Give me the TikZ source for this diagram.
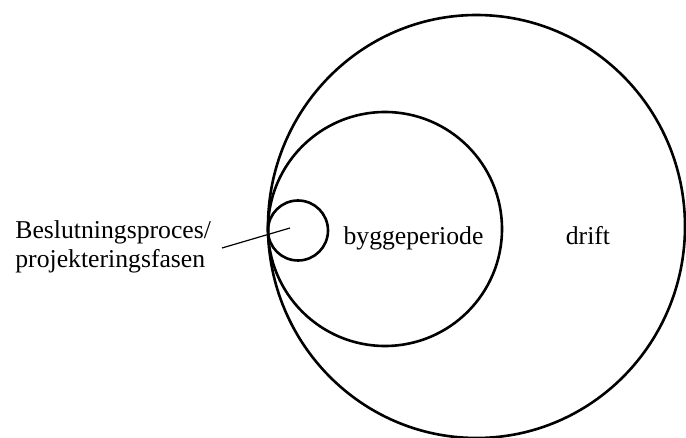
\documentclass[tikz,border=0pt]{standalone}
\usepackage{fontspec}
\setmainfont{Liberation Serif}
\usetikzlibrary{positioning, shapes.geometric}

\begin{document}
\begin{tikzpicture}[
    x=0.5pt, y=-0.5pt,
    ring/.style={draw, line width=1.3pt, inner sep=0pt},
    lbl/.style={inner sep=0pt, font=\fontsize{12.85}{14.5}\selectfont, align=left},
    lead/.style={line width=0.6pt}]
    \useasboundingbox (0,0) rectangle (686,438);
    \node[ring, ellipse, minimum width=417pt*0.5, minimum height=423pt*0.5] (drift) at (476.5,226.5) {};
    \node[ring, circle, minimum size=234pt*0.5] (bygge) at (385,229) {};
    \node[ring, circle, minimum size=60pt*0.5]  (beslut) at (298,230.5) {};
    \node[lbl, anchor=base] (tdrift) at (588,245) {drift};
    \node[lbl, anchor=base] (tbygge) at (413.5,245) {byggeperiode};
    \node[lbl, anchor=base west] (tbeslut) at (15,239) {Beslutningsproces/};
    \node[lbl, below=0pt of tbeslut.base west, anchor=base west, yshift=-14.5pt] (tprojekt) {projekteringsfasen};
    \coordinate (leadA) at (222,248);
    \coordinate (leadB) at (290,228);
    \draw[lead] (leadA) -- (leadB);
  \end{tikzpicture}
\end{document}
